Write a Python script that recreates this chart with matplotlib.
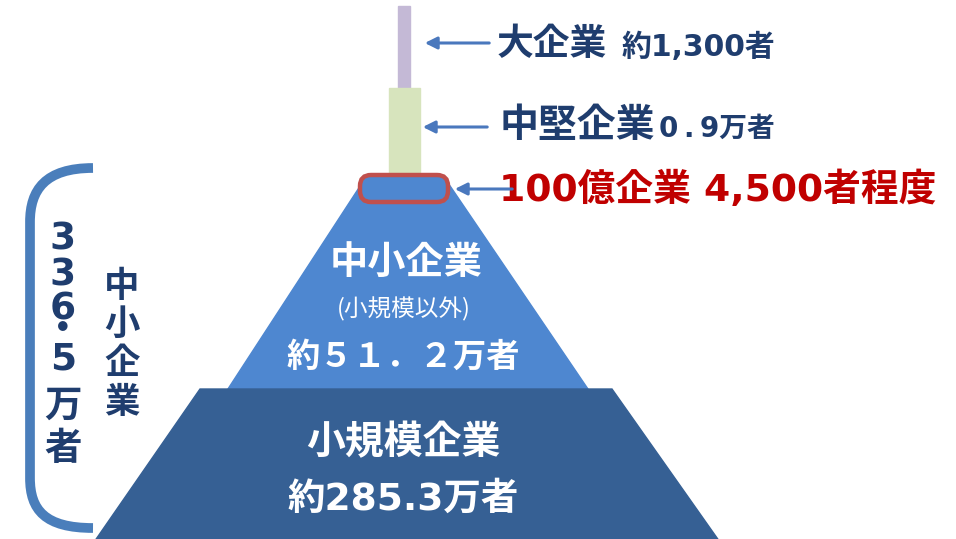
import matplotlib
matplotlib.use('Agg')
import matplotlib.pyplot as plt
from matplotlib.patches import Polygon, Rectangle, FancyBboxPatch, PathPatch
from matplotlib.path import Path

plt.rcParams['font.family'] = ['Noto Sans CJK JP', 'DejaVu Sans']
# digits look wide (Meiryo-like) in the original, so DejaVu first for number labels
num_font = ['DejaVu Sans', 'Noto Sans CJK JP']

# Data
top_names = ['大企業', '中堅企業', '100億企業']
top_counts = ['約1,300者', '0\u2009.\u20099万者', '4,500者程度']
sme_name = '中小企業'
sme_note = '(小規模以外)'
sme_count = '約５１．２万者'
small_name = '小規模企業'
small_count = '約285.3万者'
total_label = ['3', '3', '6', '・', '5', '万', '者']
total_name = '中小企業'

navy = '#1f3d6e'
light_blue = '#4e87d0'
dark_blue = '#366094'
red = '#c00000'
arrow_c = '#4a78bd'

fig = plt.figure(figsize=(9.56, 5.39), dpi=100)
ax = fig.add_axes([0, 0, 1, 1])
ax.set_xlim(0, 956)
ax.set_ylim(539, 0)
ax.axis('off')

# towers
ax.add_patch(Rectangle((398, 6), 12, 84, color='#c4b9d6', zorder=1))
ax.add_patch(Rectangle((389, 88), 31, 92, color='#d7e4bd', zorder=1))

# pyramid tiers
ax.add_patch(Polygon([(366, 177), (444, 177), (590, 392), (226, 392)],
                     closed=True, color=light_blue, zorder=2))
ax.add_patch(Polygon([(200, 389), (612, 389), (722, 545), (92, 545)],
                     closed=True, color=dark_blue, zorder=3))

# red rounded highlight
ax.add_patch(FancyBboxPatch((360, 175), 88, 27, boxstyle='round,pad=0,rounding_size=11',
                            fill=False, ec='#c0504d', lw=3.2, zorder=4))

# arrows
for y, x0, x1 in [(43, 492, 422), (127, 490, 420), (189, 515, 452)]:
    ax.annotate('', xy=(x1, y), xytext=(x0, y),
                arrowprops=dict(arrowstyle='-|>', color=arrow_c, lw=2.2,
                                mutation_scale=18), zorder=5)

# right labels
ax.text(497, 44, top_names[0], color=navy, fontsize=26.5, fontweight='bold', va='center')
ax.text(622, 47, top_counts[0], color=navy, fontsize=21.5, fontweight='bold', va='center',
        family=num_font)
ax.text(500, 126, top_names[1], color=navy, fontsize=28, fontweight='bold', va='center')
ax.text(659, 129, top_counts[1], color=navy, fontsize=20, fontweight='bold', va='center',
        family=num_font)
ax.text(499, 190, top_names[2] + ' ' + top_counts[2], color=red, fontsize=27.2,
        fontweight='bold', va='center', zorder=4, family=num_font)

# pyramid labels
ax.text(406, 262, sme_name, color='white', fontsize=27.5, fontweight='bold', ha='center', va='center')
ax.text(404, 309, sme_note, color='white', fontsize=17, ha='center', va='center')
ax.text(403, 357, sme_count, color='white', fontsize=24, fontweight='bold', ha='center', va='center')
ax.text(403, 443, small_name, color='white', fontsize=28, fontweight='bold', ha='center', va='center', zorder=4)
ax.text(403, 500, small_count, color='white', fontsize=27, fontweight='bold', ha='center', va='center',
        zorder=4, family=num_font)

# bracket
verts = [(93, 168), (45, 168), (30, 190), (30, 222),
         (30, 478), (30, 510), (45, 528), (93, 528)]
codes = [Path.MOVETO, Path.CURVE4, Path.CURVE4, Path.CURVE4,
         Path.LINETO, Path.CURVE4, Path.CURVE4, Path.CURVE4]
ax.add_patch(PathPatch(Path(verts, codes), fill=False, ec='#4a7ebb', lw=7, capstyle='butt'))

# vertical labels, one character per row
for ch, y in zip(total_label, [239, 275, 310, 331, 360, 407, 450]):
    ax.text(63, y, ch, color=navy, fontsize=27, fontweight='bold',
            ha='center', va='center', family=num_font)
for ch, y in zip(total_name, [287, 324, 363, 403]):
    ax.text(122, y, ch, color=navy, fontsize=25.5, fontweight='bold',
            ha='center', va='center')

plt.savefig('out.png', dpi=100)
